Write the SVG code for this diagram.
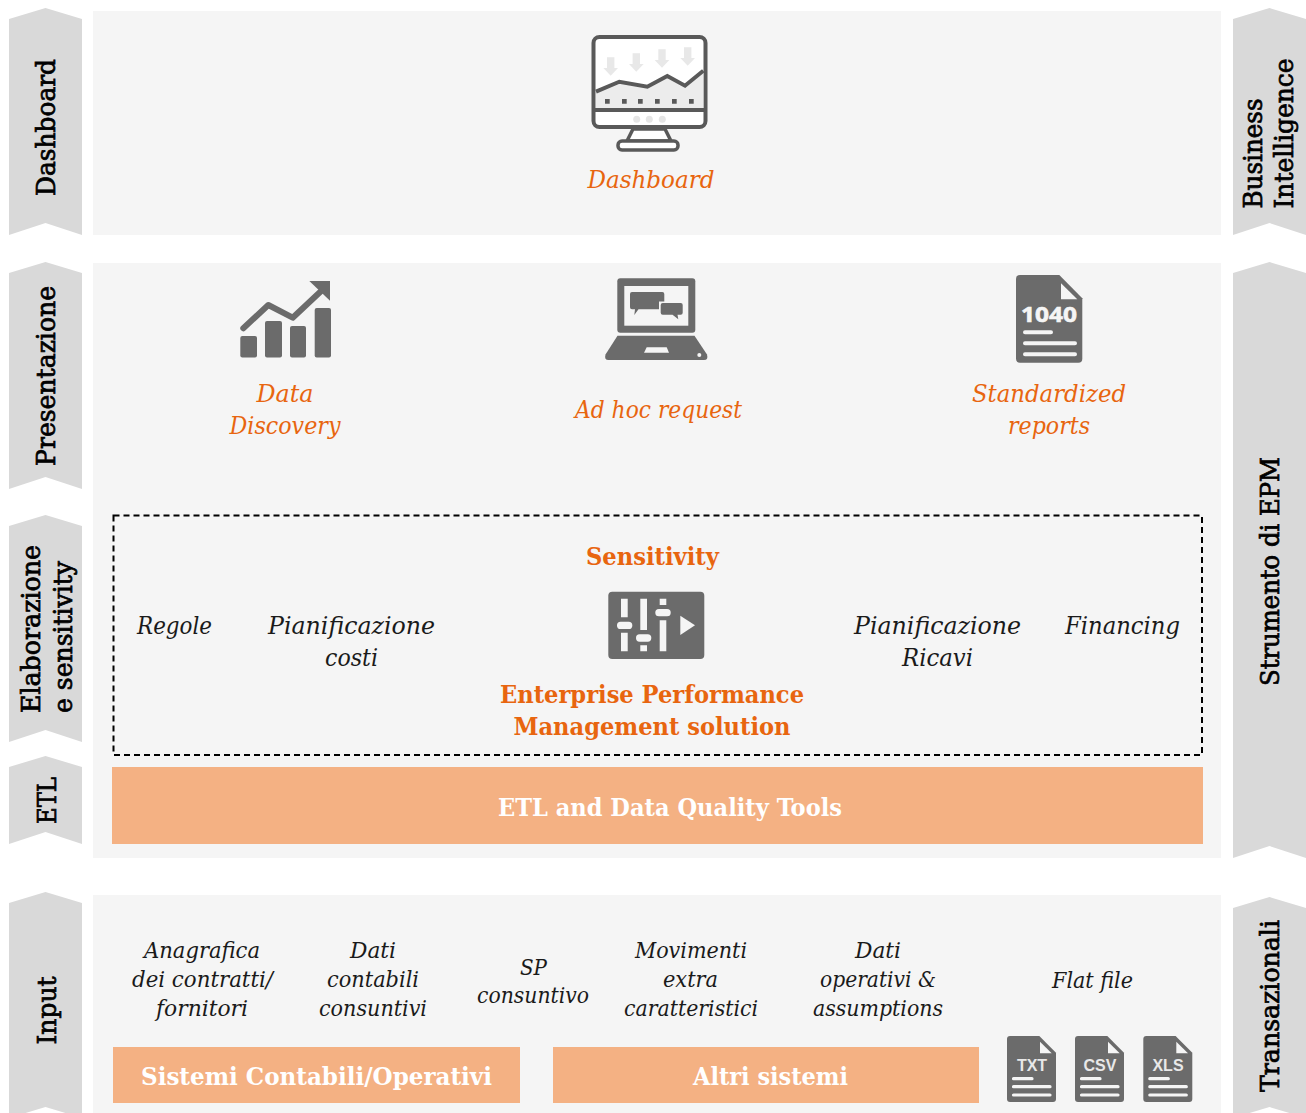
<svg xmlns="http://www.w3.org/2000/svg" xmlns:xlink="http://www.w3.org/1999/xlink" width="1306" height="1113" viewBox="0 0 1306 1113">
<style>
text{font-family:"DejaVu Serif","Liberation Serif",serif;font-stretch:condensed;text-anchor:middle}
.panel{fill:#f5f5f5}.chev{fill:#d9d9d9}
.side{font-size:26px;fill:#000;stroke:#000;stroke-width:.7px}
.st{text-anchor:start}
.it{font-style:italic;font-size:25px}
.or{fill:#e8650f}.blk{fill:#1a1a1a}
.sm{font-size:23px}
.b{font-weight:bold;font-size:25px}
.w{fill:#fff}
.bar{fill:#f4b183}
.ic{fill:#6b6b6b}
.wl{stroke:#f5f5f5;stroke-width:3.200;stroke-linecap:round;fill:none}
.dt{font-family:"Liberation Sans",Arial,sans-serif;font-weight:bold;font-size:16px;fill:#e8e8e8;font-stretch:normal}
</style>
<defs>
<g id="doc">
<path class="ic" d="M1010 1036H1039.300L1056 1052.700V1099A3 3 0 0 1 1053 1102H1010A3 3 0 0 1 1007 1099V1039A3 3 0 0 1 1010 1036Z"/>
<path fill="#f5f5f5" d="M1040 1041.700V1053.300H1051.700Z"/>
<path class="wl" d="M1013.500 1078.700H1032M1013.500 1086.700H1050M1013.500 1095H1050"/>
</g>
</defs>
<g id="panels">
<rect class="panel" x="93" y="11" width="1128" height="224"/>
<rect class="panel" x="93" y="263" width="1128" height="595"/>
<rect class="panel" x="93" y="895" width="1128" height="218"/>
</g>
<g id="side-dashboard"><path class="chev" d="M9 19L45.500 8L82 19V235L45.500 223L9 235Z"/><text class="side" transform="translate(55 127.500) rotate(-90)" textLength="137" lengthAdjust="spacingAndGlyphs">Dashboard</text></g>
<g id="side-presentazione"><path class="chev" d="M9 273L45.500 262L82 273V489L45.500 477L9 489Z"/><text class="side" transform="translate(55 376) rotate(-90)" textLength="180" lengthAdjust="spacingAndGlyphs">Presentazione</text></g>
<g id="side-elaborazione"><path class="chev" d="M9 526L45.500 515L82 526V742L45.500 730L9 742Z"/><text class="side st" transform="translate(39.500 713) rotate(-90)" textLength="168" lengthAdjust="spacingAndGlyphs">Elaborazione</text><text class="side st" transform="translate(71.500 713) rotate(-90)" textLength="152" lengthAdjust="spacingAndGlyphs">e sensitivity</text></g>
<g id="side-etl"><path class="chev" d="M9 767L45.500 756L82 767V844L45.500 832L9 844Z"/><text class="side" transform="translate(56 800.500) rotate(-90)" textLength="47" lengthAdjust="spacingAndGlyphs">ETL</text></g>
<g id="side-input"><path class="chev" d="M9 903L45.500 892L82 903V1118L45.500 1107L9 1118Z"/><text class="side" transform="translate(56 1010.500) rotate(-90)" textLength="68" lengthAdjust="spacingAndGlyphs">Input</text></g>
<g id="side-bi"><path class="chev" d="M1233 19L1269.500 8L1306 19V235L1269.500 223L1233 235Z"/><text class="side st" transform="translate(1262 208.500) rotate(-90)" textLength="110" lengthAdjust="spacingAndGlyphs">Business</text><text class="side st" transform="translate(1293 208.500) rotate(-90)" textLength="150" lengthAdjust="spacingAndGlyphs">Intelligence</text></g>
<g id="side-epm"><path class="chev" d="M1233 273L1269.500 262L1306 273V858L1269.500 846L1233 858Z"/><text class="side" transform="translate(1279 571.500) rotate(-90)" textLength="229" lengthAdjust="spacingAndGlyphs">Strumento di EPM</text></g>
<g id="side-transazionali"><path class="chev" d="M1233 908L1269.500 897L1306 908V1118L1269.500 1107L1233 1118Z"/><text class="side" transform="translate(1279 1006) rotate(-90)" textLength="172" lengthAdjust="spacingAndGlyphs">Transazionali</text></g>

<g id="dashboard">
<path d="M633 129L627 141H671L665 129Z" fill="#fff" stroke="#595959" stroke-width="3.500"/>
<rect x="593.500" y="37" width="112" height="90" rx="6" fill="#fff" stroke="#595959" stroke-width="4"/>
<path fill="#ececec" d="M596 91.700L619.300 81.700L647.300 86.700L667.300 76L685 85.700L703.300 70.700V108H596Z"/>
<path fill="none" stroke="#595959" stroke-width="4" d="M596 91.700L619.300 81.700L647.300 86.700L667.300 76L685 85.700L703.300 70.700"/>
<path fill="#e8e8e8" d="M607 57.300H614.400V68H618L610.700 75.700L603.400 68H607ZM632.600 53.300H640V64H643.600L636.300 71.700L629 64H632.600ZM658.300 49.300H665.700V60H669.300L662 67.700L654.700 60H658.300ZM684 47.300H691.400V58H695L687.700 65.700L680.400 58H684Z"/>
<path fill="#595959" d="M605 99h4.700v4.700H605ZM622 99h4.700v4.700H622ZM638 99h4.700v4.700H638ZM655 99h4.700v4.700H655ZM672 99h4.700v4.700H672ZM689 99h4.700v4.700H689Z"/>
<path stroke="#595959" stroke-width="4" d="M593 110H706"/>
<circle cx="636.700" cy="119.300" r="3.500" fill="#e5e5e5"/><circle cx="649.300" cy="119.300" r="3.500" fill="#e5e5e5"/><circle cx="662.300" cy="119.300" r="3.500" fill="#e5e5e5"/>
<rect x="618" y="141" width="60" height="9" rx="4" fill="#fff" stroke="#595959" stroke-width="3.500"/>
<text class="it or" x="651" y="187.500" textLength="127" lengthAdjust="spacingAndGlyphs">Dashboard</text>
</g>

<g id="data-discovery">
<rect class="ic" x="240.300" y="336" width="16.700" height="21.500" rx="2"/>
<rect class="ic" x="265" y="321" width="17" height="36.500" rx="2"/>
<rect class="ic" x="290" y="326" width="16" height="31.500" rx="2"/>
<rect class="ic" x="314.700" y="308" width="16.300" height="49.500" rx="2"/>
<path fill="none" stroke="#6b6b6b" stroke-width="6" stroke-linecap="round" stroke-linejoin="round" d="M243.300 328.300L268.300 305L292.700 317.700L323.300 289"/>
<path class="ic" d="M309.300 281H330V300.700Z"/>
<text class="it or" x="285" y="402" textLength="57" lengthAdjust="spacingAndGlyphs">Data</text>
<text class="it or" x="285" y="434" textLength="111" lengthAdjust="spacingAndGlyphs">Discovery</text>
</g>

<g id="ad-hoc">
<rect class="ic" x="617.300" y="278.300" width="78" height="54.400" rx="3"/>
<rect x="624.300" y="286" width="64" height="39.700" fill="#f5f5f5"/>
<path class="ic" d="M632 292H662.300A2 2 0 0 1 664.300 294V307.300A2 2 0 0 1 662.300 309.300H638.500L634.300 315L635 309.300H632A2 2 0 0 1 630 307.300V294A2 2 0 0 1 632 292Z"/>
<path fill="#f5f5f5" d="M659 301.500H684V316H659Z"/>
<path class="ic" d="M662.700 303H680.700A2 2 0 0 1 682.700 305V312.700A2 2 0 0 1 680.700 314.700H677.500L678.300 319.300L672.500 314.700H662.700A2 2 0 0 1 660.700 312.700V305A2 2 0 0 1 662.700 303Z"/>
<path class="ic" d="M617.500 335.700H694.500L707 354.500Q708.500 360 704 360H608.500Q604 360 605.500 354.500Z"/>
<path fill="#f5f5f5" d="M646.700 347.300H666.700L669 352.700H644Z"/>
<circle cx="699.300" cy="355" r="2" fill="#f5f5f5"/>
<text class="it or" x="658.500" y="418" textLength="167" lengthAdjust="spacingAndGlyphs">Ad hoc request</text>
</g>

<g id="reports">
<path class="ic" d="M1020 275H1059.300L1082.300 298.300V358.700A4 4 0 0 1 1078.300 362.700H1020A4 4 0 0 1 1016 358.700V279A4 4 0 0 1 1020 275Z"/>
<path fill="#f5f5f5" d="M1061 283.300V299.300H1077.300Z"/>
<text x="1049" y="321.500" textLength="56" lengthAdjust="spacingAndGlyphs" style="font-family:'Noto Sans',sans-serif;font-weight:bold;font-size:21px;fill:#f5f5f5;font-stretch:normal;stroke:#f5f5f5;stroke-width:.6px">1040</text>
<path class="wl" style="stroke-width:4" d="M1025 332.300H1051M1025 343.300H1075M1025 354.300H1075"/>
<text class="it or" x="1049" y="402" textLength="154" lengthAdjust="spacingAndGlyphs">Standardized</text>
<text class="it or" x="1049" y="434" textLength="82" lengthAdjust="spacingAndGlyphs">reports</text>
</g>

<g id="epm">
<rect x="113.500" y="515.500" width="1088.500" height="239.500" fill="none" stroke="#000" stroke-width="2" stroke-dasharray="6 4"/>
<text class="b or" x="652.500" y="565" textLength="133" lengthAdjust="spacingAndGlyphs">Sensitivity</text>
<rect class="ic" x="608.300" y="591.700" width="96" height="67.300" rx="4"/>
<g fill="#f5f5f5">
<path d="M621 598.700h6.700v18.600H621ZM621 632.700h6.700v18.600H621ZM640.300 598.700h6.700V630h-6.700ZM640.300 645.300h6.700v6h-6.700ZM659.700 598.700h6.600v6.300h-6.600ZM659.700 620.300h6.600v31h-6.600Z"/>
<rect x="617" y="621.700" width="15.300" height="7.300" rx="3.600"/><rect x="636" y="634.300" width="15.300" height="7.400" rx="3.600"/><rect x="655.300" y="609" width="15.400" height="7.300" rx="3.600"/>
<path d="M680.300 615.700L695 625.300L680.300 635Z"/>
</g>
<text class="b or" x="652" y="703" textLength="304" lengthAdjust="spacingAndGlyphs">Enterprise Performance</text>
<text class="b or" x="652" y="735" textLength="277" lengthAdjust="spacingAndGlyphs">Management solution</text>
<text class="it blk" x="174.500" y="634" textLength="75" lengthAdjust="spacingAndGlyphs">Regole</text>
<text class="it blk" x="351.500" y="634" textLength="167" lengthAdjust="spacingAndGlyphs">Pianificazione</text>
<text class="it blk" x="351.500" y="666" textLength="53" lengthAdjust="spacingAndGlyphs">costi</text>
<text class="it blk" x="937.500" y="634" textLength="167" lengthAdjust="spacingAndGlyphs">Pianificazione</text>
<text class="it blk" x="937.500" y="666" textLength="71" lengthAdjust="spacingAndGlyphs">Ricavi</text>
<text class="it blk" x="1122.500" y="634" textLength="115" lengthAdjust="spacingAndGlyphs">Financing</text>
</g>

<g id="etl"><rect class="bar" x="112" y="767" width="1091" height="77"/><text class="b w" x="670" y="816" textLength="344" lengthAdjust="spacingAndGlyphs">ETL and Data Quality Tools</text></g>

<g id="input">
<text class="it sm blk" x="202" y="958" textLength="116" lengthAdjust="spacingAndGlyphs">Anagrafica</text>
<text class="it sm blk" x="202.500" y="987" textLength="141" lengthAdjust="spacingAndGlyphs">dei contratti/</text>
<text class="it sm blk" x="202" y="1016" textLength="92" lengthAdjust="spacingAndGlyphs">fornitori</text>
<text class="it sm blk" x="373" y="958" textLength="46" lengthAdjust="spacingAndGlyphs">Dati</text>
<text class="it sm blk" x="373" y="987" textLength="92" lengthAdjust="spacingAndGlyphs">contabili</text>
<text class="it sm blk" x="373" y="1016" textLength="108" lengthAdjust="spacingAndGlyphs">consuntivi</text>
<text class="it sm blk" x="533.500" y="975" textLength="27" lengthAdjust="spacingAndGlyphs">SP</text>
<text class="it sm blk" x="533" y="1003" textLength="112" lengthAdjust="spacingAndGlyphs">consuntivo</text>
<text class="it sm blk" x="691" y="958" textLength="112" lengthAdjust="spacingAndGlyphs">Movimenti</text>
<text class="it sm blk" x="690.500" y="987" textLength="55" lengthAdjust="spacingAndGlyphs">extra</text>
<text class="it sm blk" x="691" y="1016" textLength="134" lengthAdjust="spacingAndGlyphs">caratteristici</text>
<text class="it sm blk" x="878" y="958" textLength="46" lengthAdjust="spacingAndGlyphs">Dati</text>
<text class="it sm blk" x="878" y="987" textLength="116" lengthAdjust="spacingAndGlyphs">operativi &amp;</text>
<text class="it sm blk" x="878" y="1016" textLength="130" lengthAdjust="spacingAndGlyphs">assumptions</text>
<text class="it sm blk" x="1092.500" y="988" textLength="81" lengthAdjust="spacingAndGlyphs">Flat file</text>
<rect class="bar" x="113" y="1047" width="407" height="56"/>
<text class="b w" x="316.500" y="1085" textLength="351" lengthAdjust="spacingAndGlyphs">Sistemi Contabili/Operativi</text>
<rect class="bar" x="553" y="1047" width="426" height="56"/>
<text class="b w" x="770.500" y="1085" textLength="155" lengthAdjust="spacingAndGlyphs">Altri sistemi</text>
</g>
<g id="file-txt"><use href="#doc"/><text class="dt" x="1032" y="1071">TXT</text></g>
<g id="file-csv"><use href="#doc" x="68"/><text class="dt" x="1100" y="1071">CSV</text></g>
<g id="file-xls"><use href="#doc" x="136.300"/><text class="dt" x="1168" y="1071">XLS</text></g>
</svg>
